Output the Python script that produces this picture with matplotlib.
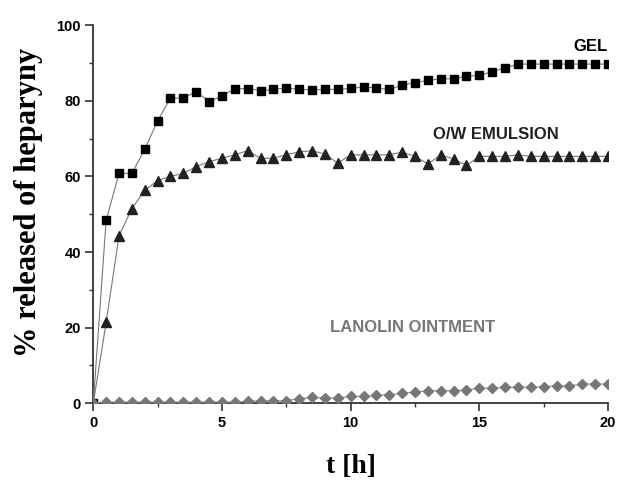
import numpy as np
import matplotlib
matplotlib.use('Agg')
import matplotlib.pyplot as plt
from matplotlib.ticker import MultipleLocator

# time points, hours (every 0.5 h)
t_hours = np.arange(0, 20.5, 0.5)

gel = [0, 48.4, 60.8, 60.8, 67.2, 74.7, 80.7, 80.7, 82.4, 79.8,
       81.2, 83.2, 83.2, 82.7, 83.0, 83.4, 83.0, 82.9, 83.0, 83.0,
       83.3, 83.6, 83.4, 83.0, 84.1, 84.8, 85.4, 85.8, 85.8, 86.5,
       86.7, 87.7, 88.7, 89.7, 89.7, 89.7, 89.7, 89.7, 89.7, 89.7, 89.7]

emulsion = [0, 21.4, 44.3, 51.5, 56.3, 58.9, 60.0, 60.8, 62.6, 63.9,
            64.8, 65.7, 66.8, 64.8, 64.8, 65.7, 66.5, 66.8, 65.9, 63.5,
            65.7, 65.7, 65.7, 65.7, 66.4, 65.3, 63.3, 65.7, 64.6, 62.9,
            65.3, 65.3, 65.3, 65.7, 65.3, 65.3, 65.3, 65.3, 65.3, 65.3, 65.3]

lanolin = [0, 0.3, 0.3, 0.3, 0.3, 0.3, 0.3, 0.3, 0.3, 0.3,
           0.3, 0.3, 0.5, 0.7, 0.7, 0.7, 1.2, 1.6, 1.4, 1.4,
           1.8, 1.8, 2.1, 2.3, 2.6, 3.0, 3.3, 3.3, 3.3, 3.5,
           4.0, 4.0, 4.2, 4.2, 4.2, 4.4, 4.6, 4.6, 5.1, 5.1, 5.1]

labels = ['GEL', 'O/W EMULSION', 'LANOLIN OINTMENT']

fig = plt.figure(figsize=(6.19, 4.83), dpi=100)
ax = fig.add_axes([0.1507, 0.165, 0.8315, 0.783])

sans = ['Liberation Sans', 'DejaVu Sans']
serif = ['Liberation Serif', 'DejaVu Serif']

ax.plot(t_hours, gel, color='#777777', lw=0.8, marker='s', ms=6,
        mfc='black', mec='black', zorder=3)
ax.plot(t_hours, emulsion, color='#777777', lw=0.8, marker='^', ms=7,
        mfc='#222222', mec='#222222', zorder=3)
ax.plot(t_hours, lanolin, color='#888888', lw=0.8, marker='D', ms=5.5,
        mfc='#777777', mec='#777777', zorder=3)

ax.set_xlim(0, 20)
ax.set_ylim(0, 100)
ax.xaxis.set_major_locator(MultipleLocator(5))
ax.xaxis.set_minor_locator(MultipleLocator(2.5))
ax.yaxis.set_major_locator(MultipleLocator(20))
ax.yaxis.set_minor_locator(MultipleLocator(10))

for side in ['top', 'right']:
    ax.spines[side].set_visible(False)
for side in ['left', 'bottom']:
    ax.spines[side].set_linewidth(1.3)
    ax.spines[side].set_color('#333333')

ax.tick_params(which='major', direction='out', length=6, width=1.2,
               color='#333333', pad=3)
ax.tick_params(which='minor', direction='out', length=3, width=1.0,
               color='#333333')
for lab in ax.get_xticklabels() + ax.get_yticklabels():
    lab.set_family(sans)
    lab.set_fontweight('bold')
    lab.set_fontsize(10.5)

ax.set_xlabel('t [h]', family=serif, fontweight='bold', fontsize=20)
ax.set_ylabel('% released of heparyny', family=serif, fontweight='bold',
              fontsize=22)
ax.xaxis.set_label_coords(0.5, -0.135)
ax.yaxis.set_label_coords(-0.097, 0.53)

ax.text(20, 94.3, labels[0], family=sans, fontweight='bold', fontsize=12,
        ha='right', va='center', color='black')
ax.text(18.1, 71.1, labels[1], family=sans, fontweight='bold', fontsize=12,
        ha='right', va='center', color='#222222')
ax.text(15.6, 20.0, labels[2], family=sans, fontweight='bold', fontsize=12,
        ha='right', va='center', color='#777777')

fig.savefig('out.png', dpi=100)
